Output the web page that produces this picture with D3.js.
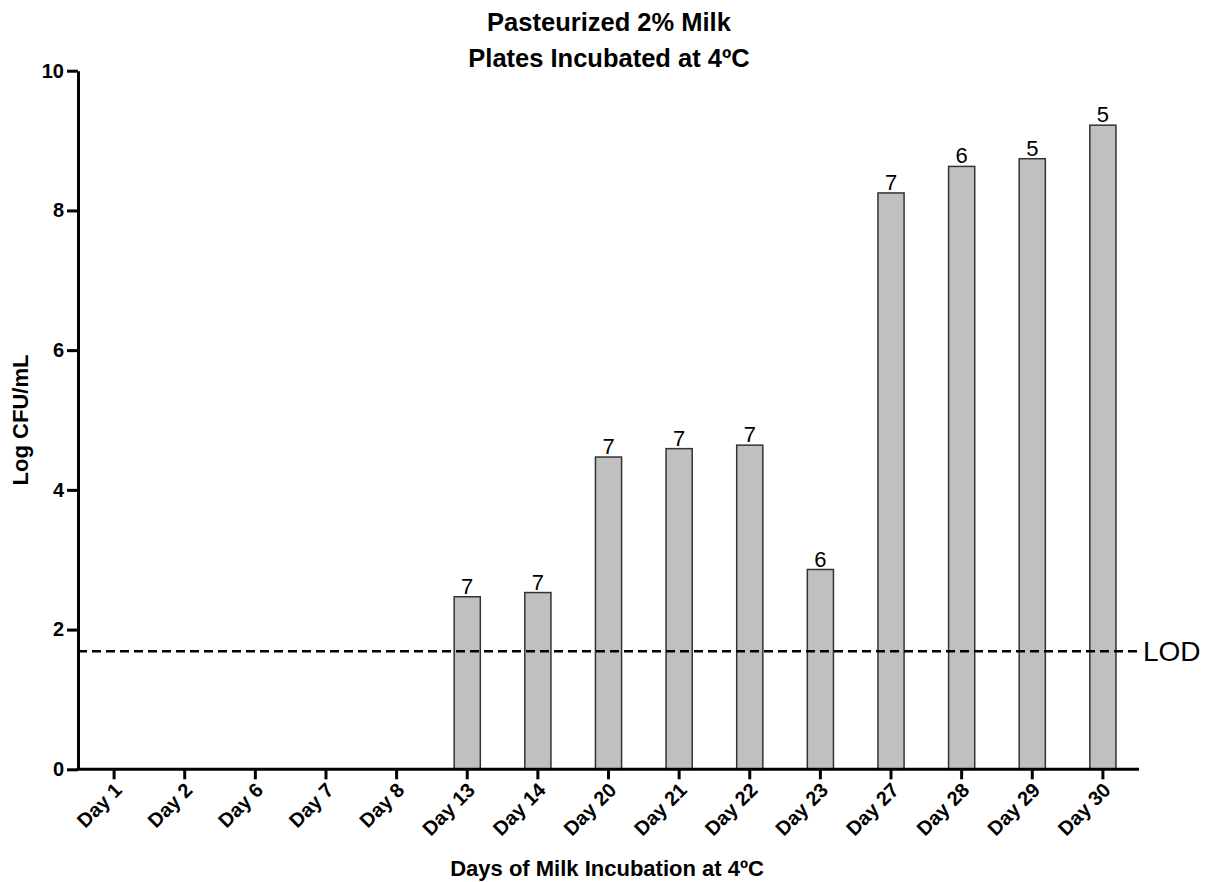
<!DOCTYPE html>
<html>
<head>
<meta charset="utf-8">
<script src="https://cdn.jsdelivr.net/npm/d3@7"></script>
<style>
  html, body { margin: 0; padding: 0; background: #fff; }
  svg { display: block; font-family: "Liberation Sans", Arial, Helvetica, sans-serif; }
</style>
</head>
<body>
<svg id="chart" width="1211" height="882"></svg>
<script>
const categories = ["Day 1","Day 2","Day 6","Day 7","Day 8","Day 13","Day 14","Day 20","Day 21","Day 22","Day 23","Day 27","Day 28","Day 29","Day 30"];
const logCFU = [null,null,null,null,null,2.47,2.53,4.47,4.59,4.64,2.86,8.25,8.63,8.74,9.22];
const sampleCounts = [null,null,null,null,null,7,7,7,7,7,6,7,6,5,5];
const yTicks = [0,2,4,6,8,10];
const lodValue = 1.69;
const titleLines = ["Pasteurized 2% Milk","Plates Incubated at 4ºC"];
const xTitle = "Days of Milk Incubation at 4ºC";
const yTitle = "Log CFU/mL";
const lodLabel = "LOD";

(function () {
const svg = d3.select("#chart");
const plotLeft = 78, plotRight = 1139, plotTop = 70.7, plotBottom = 769.3;

const x = d3.scaleBand().domain(categories).range([plotLeft, plotRight])
  .paddingInner(0.63).paddingOuter(0.326);
const y = d3.scaleLinear().domain([0, 10]).range([plotBottom, plotTop]);

// Title
svg.append("g").selectAll("text").data(titleLines).join("text")
  .attr("x", 609).attr("y", (d, i) => 31 + i * 36)
  .attr("text-anchor", "middle").attr("font-weight", "bold")
  .attr("font-size", 25.5).attr("fill", "#000").text(d => d);

// Bars
const data = categories.map((c, i) => ({c, v: logCFU[i], n: sampleCounts[i]})).filter(d => d.v != null);
svg.append("g").selectAll("rect").data(data).join("rect")
  .attr("x", d => x(d.c)).attr("width", x.bandwidth())
  .attr("y", d => y(d.v)).attr("height", d => y(0) - y(d.v))
  .attr("fill", "#c0c0c0").attr("stroke", "#333").attr("stroke-width", 1.5);

// Count labels
svg.append("g").selectAll("text").data(data).join("text")
  .attr("x", d => x(d.c) + x.bandwidth() / 2).attr("y", d => y(d.v) - 3)
  .attr("text-anchor", "middle").attr("font-size", 22).attr("fill", "#000")
  .text(d => d.n);

// LOD line
svg.append("line")
  .attr("x1", plotLeft).attr("x2", plotRight - 2)
  .attr("y1", y(lodValue)).attr("y2", y(lodValue))
  .attr("stroke", "#000").attr("stroke-width", 2.5).attr("stroke-dasharray", "9,5");
svg.append("text").attr("x", 1143).attr("y", y(lodValue) + 10)
  .attr("font-size", 28).attr("fill", "#000").text(lodLabel);

// Y axis
const yAxis = svg.append("g").attr("transform", `translate(${plotLeft},0)`)
  .call(d3.axisLeft(y).tickValues(yTicks).tickSize(11).tickSizeOuter(0).tickPadding(3));
yAxis.select(".domain").attr("stroke", "#000").attr("stroke-width", 3);
yAxis.selectAll(".tick line").attr("stroke", "#000").attr("stroke-width", 3);
yAxis.selectAll(".tick text").attr("font-size", 20).attr("font-weight", "bold")
  .attr("font-family", "Liberation Sans, Arial, sans-serif").attr("fill", "#000");

// X axis
const xAxis = svg.append("g").attr("transform", `translate(0,${plotBottom})`)
  .call(d3.axisBottom(x).tickSize(10).tickSizeOuter(0).tickPadding(4));
xAxis.select(".domain").attr("stroke", "#000").attr("stroke-width", 3)
  .attr("d", `M${plotLeft - 1.5},0H${plotRight}`);
xAxis.selectAll(".tick line").attr("stroke", "#000").attr("stroke-width", 3);
xAxis.selectAll(".tick text")
  .attr("font-size", 20).attr("font-weight", "bold")
  .attr("font-family", "Liberation Sans, Arial, sans-serif").attr("fill", "#000")
  .attr("text-anchor", "end").attr("dy", null).attr("y", 0)
  .attr("transform", "translate(9,22) rotate(-45)");

// Axis titles
svg.append("text").attr("x", 607).attr("y", 876)
  .attr("text-anchor", "middle").attr("font-weight", "bold").attr("font-size", 22)
  .attr("fill", "#000").text(xTitle);
svg.append("text").attr("transform", "translate(28,420) rotate(-90)")
  .attr("text-anchor", "middle").attr("font-weight", "bold").attr("font-size", 22)
  .attr("fill", "#000").text(yTitle);
})();
</script>
</body>
</html>
